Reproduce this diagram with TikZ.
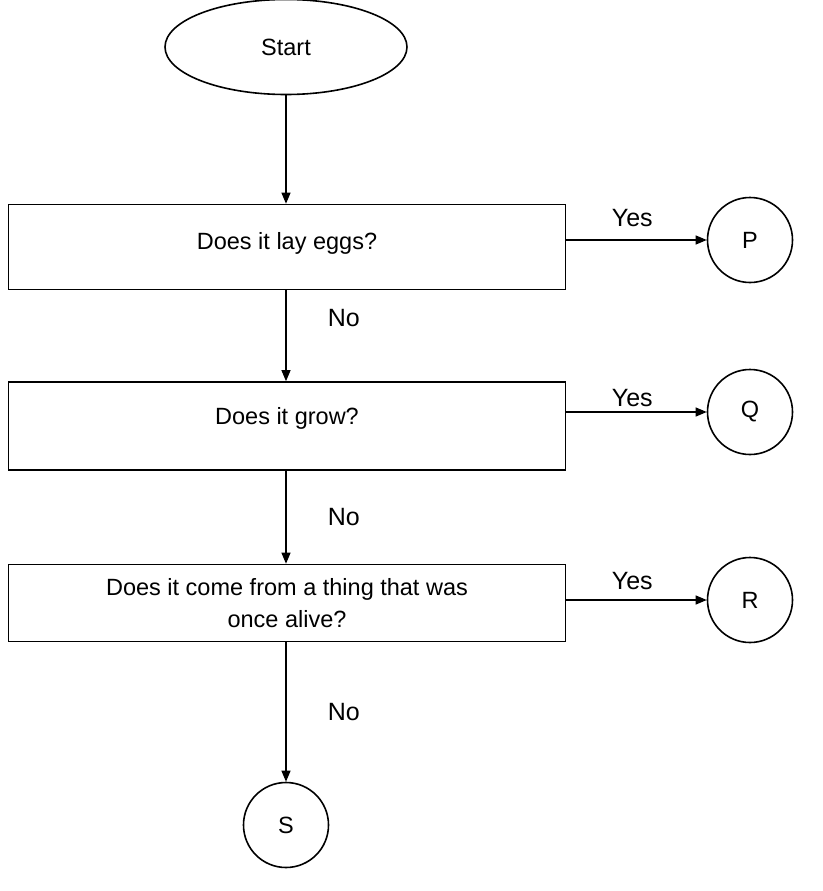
\documentclass[tikz,border=0pt]{standalone}
\usepackage{fontspec}
\setmainfont{Liberation Sans}
\usetikzlibrary{shapes.geometric,arrows.meta}

\begin{document}
\begin{tikzpicture}[x=1pt,y=-1pt,font=\fontsize{23.5}{32}\selectfont,
                    >={Triangle[length=11pt,width=9pt]}]
            \useasboundingbox (0,0) rectangle (822,891);
            \begin{scope}[every node/.style={draw,line width=1.6pt}]
                \node (St) [ellipse, minimum width=242pt, minimum height=95pt] at (286, 47) {Start};
                \node (B1) [minimum width=557pt, minimum height=85pt, text depth=13pt] at (287, 247) {Does it lay eggs?};
                \node (B2) [minimum width=557pt, minimum height=88pt, text depth=20pt] at (287, 426) {Does it grow?};
                \node (B3) [minimum width=557pt, minimum height=77pt, align=center] at (287, 603) {Does it come from a thing that was\\once alive?};
                \node (P) [circle, minimum size=85pt] at (750, 240) {P};
                \node (Q) [circle, minimum size=85pt] at (750, 412) {Q};
                \node (R) [circle, minimum size=85pt] at (750, 600) {R};
                \node (S) [circle, minimum size=85pt] at (286, 825) {S};
            \end{scope}

            \begin{scope}[every node/.style={font=\fontsize{25}{30}\selectfont},
                          every edge/.style={draw=black,line width=1.1pt}]
                \path [->] (St) edge (St |- B1.north);
                \path [->] (B1.east |- P) edge node[above=9pt, pos=0.47] {Yes} (P);
                \path [->] (B1.south -| St) edge node[right=38pt, pos=0.3] {No} (St |- B2.north);
                \path [->] (B2.east |- Q) edge node[above=1pt, pos=0.47] {Yes} (Q);
                \path [->] (B2.south -| St) edge node[right=38pt, pos=0.5] {No} (St |- B3.north);
                \path [->] (B3.east |- R) edge node[above=6pt, pos=0.47] {Yes} (R);
                \path [->] (B3.south -| St) edge node[right=38pt, pos=0.5] {No} (S);
            \end{scope}
        \end{tikzpicture}
\end{document}
